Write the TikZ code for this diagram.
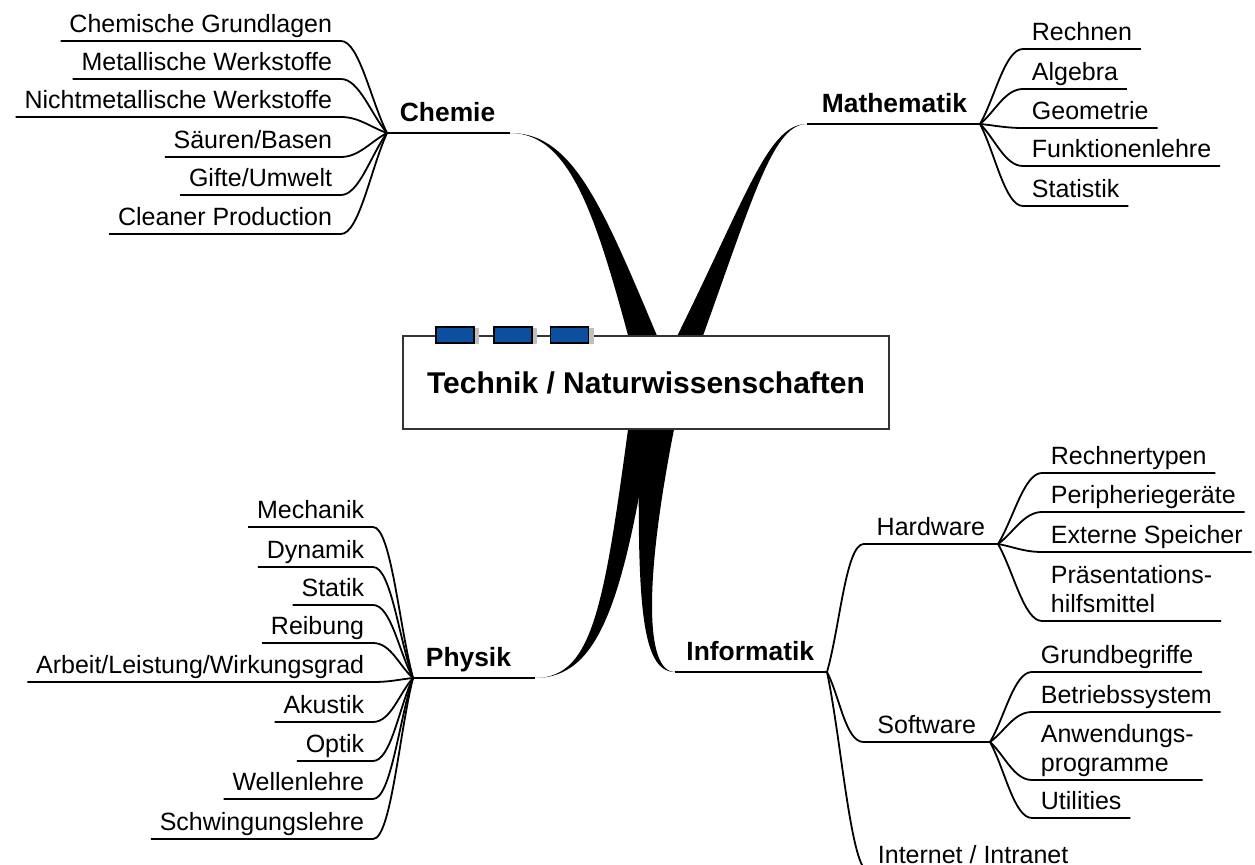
\documentclass[tikz,border=0pt]{standalone}
\usepackage{fontspec}
\setmainfont{Liberation Sans}
\usetikzlibrary{calc,shadows}

\definecolor{tabblue}{RGB}{11,80,158}

\tikzset{
  leaf/.style={font=\fontsize{12.5}{14.5}\selectfont, inner xsep=4pt, inner ysep=0pt, text depth=4pt},
  topic/.style={font=\bfseries\fontsize{13.2}{15}\selectfont, inner xsep=6pt, inner ysep=0pt, text depth=5.5pt},
  twig/.style={to path={.. controls ($(\tikztostart)!0.35!(\tikztotarget)$) and ($(\tikztotarget)+(#1,0)$) .. (\tikztotarget)}},
  tab/.style={draw=black, line width=0.6pt, fill=tabblue, minimum width=19pt, minimum height=8pt, inner sep=0pt,
    drop shadow={shadow xshift=2.5pt, shadow yshift=-0.3pt, fill=black!25, opacity=1}}
}

\begin{document}
\begin{tikzpicture}[x=0.5pt, y=-0.5pt, line width=0.9pt]
  \useasboundingbox (0,0) rectangle (1255,865);
  \clip (0,0) rectangle (1255,865);

  % Hauptaeste
  \coordinate (cTip) at (510,133);
  \coordinate (mTip) at (807,124);
  \coordinate (pTip) at (535,678);
  \coordinate (iTip) at (675,672);
  \fill (cTip) .. controls (575,133) and (600,230) .. (640,380) -- (680,390) .. controls (608,222) and (580,133) .. (cTip);
  \fill (mTip) .. controls (765,124) and (745,205) .. (655,380) -- (685,385) .. controls (750,210) and (770,124) .. (mTip);
  \fill (pTip) .. controls (595,678) and (605,600) .. (632,400) -- (655,400) .. controls (625,600) and (600,678) .. (pTip);
  \fill (iTip) .. controls (640,672) and (636,600) .. (640,400) -- (680,400) .. controls (642,580) and (645,672) .. (iTip);

  \node[draw=black!80, line width=0.6pt, fill=white, minimum width=243pt, minimum height=46.5pt,
        font=\bfseries\fontsize{15}{18}\selectfont] (title) at (646,382.5) {Technik / Naturwissenschaften};
  \node[tab] (tab1) at (455,335) {};
  \node[tab] (tab2) at (513,335) {};
  \node[tab] (tab3) at (569.5,335) {};

  % Themen
  \node[topic, anchor=south west] (chemie) at (387,133) {Chemie};
  \node[topic, anchor=south east] (mathe) at (980,124) {Mathematik};
  \node[topic, anchor=south west] (physik) at (413,678) {Physik};
  \node[topic, anchor=south east] (info) at (827,672) {Informatik};
  \draw[line width=1.3pt] (chemie.south west) -- (cTip);
  \draw[line width=1.3pt] (mathe.south east) -- (mTip);
  \draw[line width=1.3pt] (physik.south west) -- (pTip);
  \draw[line width=1.3pt] (info.south east) -- (iTip);

  % Chemie
  \node[leaf, anchor=south east] (c1) at (341,41) {Chemische Grundlagen};
  \node[leaf, anchor=south east] (c2) at (341,79) {Metallische Werkstoffe};
  \node[leaf, anchor=south east] (c3) at (341,117) {Nichtmetallische Werkstoffe};
  \node[leaf, anchor=south east] (c4) at (341,157) {Säuren/Basen};
  \node[leaf, anchor=south east] (c5) at (341,195) {Gifte/Umwelt};
  \node[leaf, anchor=south east] (c6) at (341,234) {Cleaner Production};
  \draw (chemie.south west) to[twig=18] (c1.south east) -- (c1.south west);
  \draw (chemie.south west) to[twig=18] (c2.south east) -- (c2.south west);
  \draw (chemie.south west) to[twig=18] (c3.south east) -- (c3.south west);
  \draw (chemie.south west) to[twig=18] (c4.south east) -- (c4.south west);
  \draw (chemie.south west) to[twig=18] (c5.south east) -- (c5.south west);
  \draw (chemie.south west) to[twig=18] (c6.south east) -- (c6.south west);

  % Mathematik
  \node[leaf, anchor=south west] (m1) at (1023,49) {Rechnen};
  \node[leaf, anchor=south west] (m2) at (1023,89) {Algebra};
  \node[leaf, anchor=south west] (m3) at (1023,128) {Geometrie};
  \node[leaf, anchor=south west] (m4) at (1023,166) {Funktionenlehre};
  \node[leaf, anchor=south west] (m5) at (1023,206) {Statistik};
  \draw (mathe.south east) to[twig=-18] (m1.south west) -- (m1.south east);
  \draw (mathe.south east) to[twig=-18] (m2.south west) -- (m2.south east);
  \draw (mathe.south east) to[twig=-18] (m3.south west) -- (m3.south east);
  \draw (mathe.south east) to[twig=-18] (m4.south west) -- (m4.south east);
  \draw (mathe.south east) to[twig=-18] (m5.south west) -- (m5.south east);

  % Physik
  \node[leaf, anchor=south east] (p1) at (373,527) {Mechanik};
  \node[leaf, anchor=south east] (p2) at (373,567) {Dynamik};
  \node[leaf, anchor=south east] (p3) at (373,605) {Statik};
  \node[leaf, anchor=south east] (p4) at (373,643) {Reibung};
  \node[leaf, anchor=south east] (p5) at (373,682) {Arbeit/Leistung/Wirkungsgrad};
  \node[leaf, anchor=south east] (p6) at (373,722) {Akustik};
  \node[leaf, anchor=south east] (p7) at (373,761) {Optik};
  \node[leaf, anchor=south east] (p8) at (373,799) {Wellenlehre};
  \node[leaf, anchor=south east] (p9) at (373,839) {Schwingungslehre};
  \draw (physik.south west) to[twig=18] (p1.south east) -- (p1.south west);
  \draw (physik.south west) to[twig=18] (p2.south east) -- (p2.south west);
  \draw (physik.south west) to[twig=18] (p3.south east) -- (p3.south west);
  \draw (physik.south west) to[twig=18] (p4.south east) -- (p4.south west);
  \draw (physik.south west) to[twig=18] (p5.south east) -- (p5.south west);
  \draw (physik.south west) to[twig=18] (p6.south east) -- (p6.south west);
  \draw (physik.south west) to[twig=18] (p7.south east) -- (p7.south west);
  \draw (physik.south west) to[twig=18] (p8.south east) -- (p8.south west);
  \draw (physik.south west) to[twig=18] (p9.south east) -- (p9.south west);

  % Informatik
  \node[leaf, anchor=south east, inner xsep=6pt] (hw) at (998,544) {Hardware};
  \node[leaf, anchor=south east, inner xsep=6.5pt] (sw) at (990,742) {Software};
  \node[leaf, anchor=south west] (net) at (869,872) {Internet / Intranet};
  \draw (info.south east) to[twig=-18] (hw.south west) -- (hw.south east);
  \draw (info.south east) to[twig=-18] (sw.south west) -- (sw.south east);
  \draw (info.south east) to[twig=-18] (net.south west) -- (net.south east);

  \node[leaf, anchor=south west] (h1) at (1042,473) {Rechnertypen};
  \node[leaf, anchor=south west] (h2) at (1042,512) {Peripheriegeräte};
  \node[leaf, anchor=south west] (h3) at (1042,552) {Externe Speicher};
  \node[leaf, anchor=south west, align=left] (h4) at (1042,621) {Präsentations-\\hilfsmittel};
  \draw (hw.south east) to[twig=-18] (h1.south west) -- (h1.south east);
  \draw (hw.south east) to[twig=-18] (h2.south west) -- (h2.south east);
  \draw (hw.south east) to[twig=-18] (h3.south west) -- (h3.south east);
  \draw (hw.south east) to[twig=-18] (h4.south west) -- (h4.south east);

  \node[leaf, anchor=south west] (s1) at (1032,672) {Grundbegriffe};
  \node[leaf, anchor=south west] (s2) at (1032,712) {Betriebssystem};
  \node[leaf, anchor=south west, align=left] (s3) at (1032,780) {Anwendungs-\\programme};
  \node[leaf, anchor=south west] (s4) at (1032,818) {Utilities};
  \draw (sw.south east) to[twig=-18] (s1.south west) -- (s1.south east);
  \draw (sw.south east) to[twig=-18] (s2.south west) -- (s2.south east);
  \draw (sw.south east) to[twig=-18] (s3.south west) -- (s3.south east);
  \draw (sw.south east) to[twig=-18] (s4.south west) -- (s4.south east);
\end{tikzpicture}
\end{document}
